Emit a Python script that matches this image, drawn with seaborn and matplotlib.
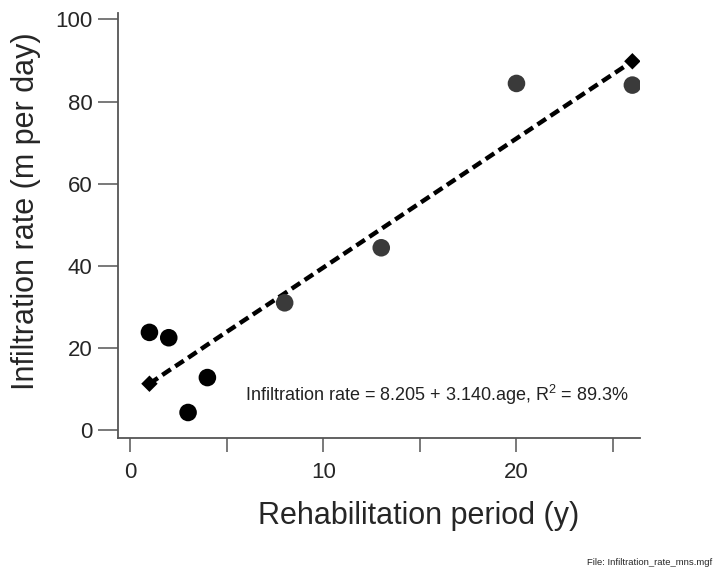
import matplotlib
matplotlib.use('Agg')
import matplotlib.pyplot as plt
import pandas as pd
import seaborn as sns

# observed infiltration rates
age = [1, 2, 3, 4, 8, 13, 20, 26]
rate = [23.8, 22.5, 4.3, 12.8, 31.0, 44.4, 84.4, 84.0]
shade = ['dark', 'dark', 'dark', 'dark', 'grey', 'grey', 'grey', 'grey']

# fitted values
fit_age = [1, 2, 3, 4, 8, 13, 20, 26]
fit_rate = [11.3, 14.5, 17.6, 20.8, 33.3, 49.0, 71.0, 89.8]
end_age = [1, 26]
end_rate = [11.3, 89.8]

sns.set_style('ticks')
plt.rcParams['font.family'] = ['Liberation Sans', 'DejaVu Sans']
plt.rcParams['mathtext.fontset'] = 'custom'
plt.rcParams['mathtext.rm'] = 'Liberation Sans'

obs = pd.DataFrame({'age': age, 'rate': rate, 'shade': shade})
fit = pd.DataFrame({'age': fit_age, 'rate': fit_rate})

fig = plt.figure(figsize=(7.16, 5.74), dpi=100)
ax = fig.add_axes([0.165, 0.237, 0.729, 0.740])

sns.lineplot(data=fit, x='age', y='rate', ax=ax, color='black', lw=3.2,
             dashes=False, zorder=2).lines[0].set_dashes((2.3, 1.2))
sns.scatterplot(data=obs, x='age', y='rate', hue='shade', ax=ax,
                palette={'dark': 'black', 'grey': '#3a3a3a'}, s=160,
                edgecolor='none', legend=False, zorder=3)
sns.scatterplot(x=end_age, y=end_rate, ax=ax, marker='D', color='black',
                s=70, edgecolor='none', zorder=4)

ax.set_xlim(-0.62, 26.4)
ax.set_ylim(-1.9, 101.5)
ax.set_xticks([0, 10, 20])
ax.set_xticks([5, 15, 25], minor=True)
ax.set_yticks([0, 20, 40, 60, 80, 100])

for s in ['top', 'right']:
    ax.spines[s].set_visible(False)
for s in ['left', 'bottom']:
    ax.spines[s].set_color('#555555')
    ax.spines[s].set_linewidth(1.3)

ax.tick_params(axis='x', which='both', length=10, width=1.1, color='#555555',
               labelsize=16, pad=7)
ax.tick_params(axis='y', length=14.5, width=1.1, color='#555555',
               labelsize=16, pad=4)

ax.set_xlabel('Rehabilitation period (y)', fontsize=22)
ax.set_ylabel('Infiltration rate (m per day)', fontsize=22)
ax.xaxis.set_label_coords(0.575, -0.148)
ax.yaxis.set_label_coords(-0.148, 0.535)

ax.text(15.9, 8.5, 'Infiltration rate = 8.205 + 3.140.age, R$^2$ = 89.3%',
        fontsize=13, ha='center', va='center', color='#222222')

fig.text(0.995, 0.02, 'File: Infiltration_rate_mns.mgf', fontsize=6.8,
         ha='right', va='center', family=['Liberation Sans Narrow', 'Liberation Sans'])

fig.savefig('out.png', dpi=100)
